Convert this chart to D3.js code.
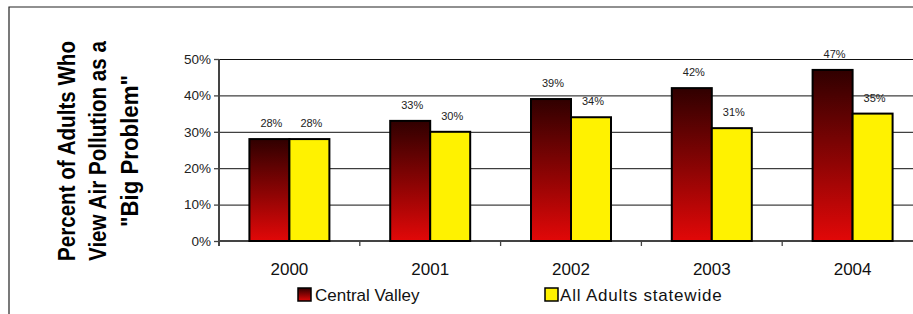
<!DOCTYPE html>
<html>
<head>
<meta charset="utf-8">
<script src="https://cdn.jsdelivr.net/npm/d3@7"></script>
<style>
  body { margin: 0; background: #fff; }
  svg { display: block; font-family: "Liberation Sans", Arial, sans-serif; }
</style>
</head>
<body>
<div id="chart"></div>
<script>
const years = ["2000", "2001", "2002", "2003", "2004"];
const seriesNames = ["Central Valley", "All Adults statewide"];
const centralValley = [0.28, 0.33, 0.39, 0.42, 0.47];
const statewide = [0.28, 0.30, 0.34, 0.31, 0.35];
const yTicks = [0, 0.1, 0.2, 0.3, 0.4, 0.5];
const titleLines = ["Percent of Adults Who", "View Air Pollution as a", "\"Big Problem\""];

const width = 913, height = 314;
const plot = { left: 219, right: 923, top: 59, bottom: 241 };

var svg = d3.select("#chart") // create the SVG
  .append("svg")
  .attr("width", width)
  .attr("height", height);

svg.append("rect")
  .attr("width", width)
  .attr("height", height)
  .attr("fill", "#fff");

// gradient for the Central Valley bars
var grad = svg.append("defs")
  .append("linearGradient")
  .attr("id", "cvGrad")
  .attr("x1", 0).attr("y1", 0)
  .attr("x2", 0).attr("y2", 1);
grad.append("stop").attr("offset", "0%").attr("stop-color", "#300000");
grad.append("stop").attr("offset", "55%").attr("stop-color", "#900404");
grad.append("stop").attr("offset", "100%").attr("stop-color", "#e20808");

const colors = ["url(#cvGrad)", "#fff200"];

// frame
svg.append("path")
  .attr("d", `M9,${height} V7 H${width}`)
  .attr("fill", "none")
  .attr("stroke", "#222")
  .attr("stroke-width", 1.2);

var y = d3.scaleLinear() // y axis scale
  .domain([0, 0.5])
  .range([plot.bottom, plot.top]);

const x0 = d3.scaleBand() // x axis scale
  .domain(years)
  .range([plot.left, plot.right])
  .padding(0);

const x1 = d3.scaleBand()
  .domain(seriesNames)
  .range([0, x0.bandwidth()])
  .paddingInner(0)
  .paddingOuter(0.76);

// gridlines
svg.append("g")
  .attr("transform", `translate(${plot.left},0)`)
  .call(d3.axisLeft(y).tickValues(yTicks.slice(1)).tickSize(-(plot.right - plot.left)).tickFormat(""))
  .call(g => g.select(".domain").remove())
  .call(g => g.selectAll("line").attr("stroke", "#111").attr("stroke-width", 1));

// Y axis
svg.append("g")
  .attr("transform", `translate(${plot.left},0)`)
  .call(d3.axisLeft(y).tickValues(yTicks).tickSize(5).tickPadding(3).tickFormat(d3.format(".0%")))
  .call(g => g.select(".domain").attr("stroke", "#444").attr("stroke-width", 2).attr("d", `M0,${plot.top}V${plot.bottom + 5}`))
  .call(g => g.selectAll("line").attr("stroke", "#444").attr("stroke-width", 1.3))
  .call(g => g.selectAll("text").attr("font-size", 13.5).attr("fill", "#222").attr("font-family", null));

// X axis line and boundary ticks
svg.append("line")
  .attr("x1", plot.left).attr("x2", plot.right)
  .attr("y1", plot.bottom).attr("y2", plot.bottom)
  .attr("stroke", "#444").attr("stroke-width", 2);

svg.selectAll(".xtick")
  .data(years.slice(1))
  .enter()
  .append("line")
  .attr("class", "xtick")
  .attr("x1", d => x0(d)).attr("x2", d => x0(d))
  .attr("y1", plot.bottom).attr("y2", plot.bottom + 5)
  .attr("stroke", "#444").attr("stroke-width", 1.3);

svg.selectAll(".xlabel")
  .data(years)
  .enter()
  .append("text")
  .attr("class", "xlabel")
  .attr("x", d => x0(d) + x0.bandwidth() / 2)
  .attr("y", 275)
  .attr("text-anchor", "middle")
  .attr("font-size", 17)
  .attr("fill", "#111")
  .text(d => d);

// bars
const rows = years.map((yr, i) => ({ year: yr, values: [centralValley[i], statewide[i]] }));

var groups = svg.selectAll(".grp")
  .data(rows)
  .enter()
  .append("g")
  .attr("class", "grp")
  .attr("transform", d => `translate(${x0(d.year)},0)`);

groups.selectAll("rect")
  .data(d => d.values.map((v, j) => ({ key: seriesNames[j], value: v, idx: j })))
  .enter()
  .append("rect")
  .attr("x", d => x1(d.key))
  .attr("y", d => y(d.value))
  .attr("width", x1.bandwidth())
  .attr("height", d => y(0) - y(d.value))
  .attr("fill", d => colors[d.idx])
  .attr("stroke", "#000")
  .attr("stroke-width", 2);

groups.selectAll(".lbl")
  .data(d => d.values.map((v, j) => ({ key: seriesNames[j], value: v })))
  .enter()
  .append("text")
  .attr("class", "lbl")
  .attr("x", d => x1(d.key) + x1.bandwidth() / 2 + 2)
  .attr("y", d => y(d.value) - 12)
  .attr("text-anchor", "middle")
  .attr("font-size", 11)
  .attr("fill", "#222")
  .text(d => d3.format(".0%")(d.value));

// Y axis title
const titleLen = [220, 220, 152];
svg.selectAll(".ytitle")
  .data(titleLines)
  .enter()
  .append("text")
  .attr("class", "ytitle")
  .attr("transform", (d, i) => `translate(${75 + i * 31.3},151) rotate(-90)`)
  .attr("text-anchor", "middle")
  .attr("font-size", 23)
  .attr("font-weight", "bold")
  .attr("fill", "#000")
  .attr("textLength", (d, i) => titleLen[i])
  .attr("lengthAdjust", "spacingAndGlyphs")
  .text(d => d);

// legend
const legendX = [298, 545];
var legend = svg.selectAll(".leg")
  .data(seriesNames)
  .enter()
  .append("g")
  .attr("class", "leg")
  .attr("transform", (d, i) => `translate(${legendX[i]},288)`);

legend.append("rect")
  .attr("width", 13)
  .attr("height", 13)
  .attr("fill", (d, i) => colors[i])
  .attr("stroke", "#000")
  .attr("stroke-width", 1.5);

legend.append("text")
  .attr("x", (d, i) => i == 0 ? 17 : 15)
  .attr("y", 13)
  .attr("font-size", 17)
  .attr("fill", "#111")
  .attr("letter-spacing", (d, i) => i == 1 ? 0.8 : 0)
  .text(d => d);
</script>
</body>
</html>
